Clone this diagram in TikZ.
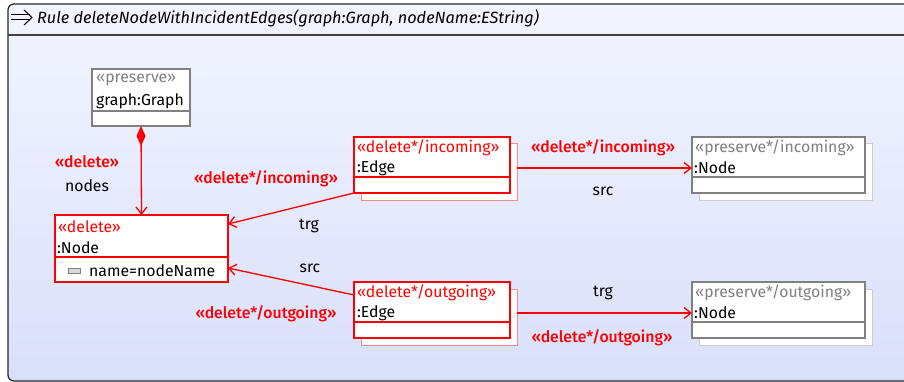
\documentclass[tikz,border=0pt]{standalone}
\usepackage{fontspec}
\setmainfont{Fira Sans}[BoldFont={Fira Sans Medium}]
\usetikzlibrary{arrows.meta,shapes}
\definecolor{delred}{rgb}{1, 0, 0}
\definecolor{shadred}{rgb}{1, 0.55, 0.55}
\definecolor{presgray}{rgb}{0.5, 0.5, 0.5}
\definecolor{shadgray}{rgb}{0.8, 0.8, 0.8}
\definecolor{bgtop}{rgb}{0.95, 0.96, 1}
\definecolor{bgbot}{rgb}{0.85, 0.88, 0.98}
\tikzstyle{box}=[rectangle,fill=white,inner sep=0pt,outer sep=0pt,anchor=north west]
\tikzstyle{delbox}=[box,draw=delred,line width=1.3pt]
\tikzstyle{presbox}=[box,draw=presgray,line width=1.3pt]
\tikzstyle{delshadow}=[box,draw=shadred,line width=1pt]
\tikzstyle{presshadow}=[box,draw=shadgray,line width=1pt]
\tikzstyle{txt}=[anchor=west,inner sep=0pt,font=\fontsize{15.8}{18}\selectfont]
\tikzstyle{deltxt}=[txt,text=delred]
\tikzstyle{prestxt}=[txt,text=presgray]
\tikzstyle{lbl}=[inner sep=0pt,font=\fontsize{15.8}{18}\selectfont]
\tikzstyle{dellbl}=[lbl,text=delred,font=\fontsize{15.8}{18}\selectfont\bfseries]
\tikzstyle{delarrow}=[draw=delred,line width=1.3pt,-{Straight Barb[length=7pt,width=11pt]}]

\begin{document}
\begin{tikzpicture}[x=1pt,y=-1pt]
\useasboundingbox (0,0) rectangle (904,382);
% frame
\draw[draw=black!85, line width=1.2pt, rounded corners=6pt, top color=bgtop, bottom color=bgbot] (8,4) rectangle (930,381);
\draw[line width=2pt, color=black!75] (8,35) -- (904,35);
\draw[line width=1pt] (11,15) -- (30,15);
\draw[line width=1pt] (11,20) -- (30,20);
\draw[line width=1pt] (24,10) -- (32,17.5) -- (24,25);
\node[txt, font=\fontsize{16.3}{18}\selectfont\itshape] (title) at (37,18) {Rule deleteNodeWithIncidentEdges(graph:Graph, nodeName:EString)};
% graph
\node[presbox, minimum width=98pt, minimum height=57pt] (graph) at (92,69) {};
\draw[presgray, line width=1.3pt] (92,111) -- (190,111);
\node[prestxt] (graphtype) at (96,80) {«preserve»};
\node[txt] (graphname) at (96,101) {graph:Graph};
% node to delete
\node[delbox, minimum width=173pt, minimum height=67pt] (delnode) at (55,215) {};
\draw[delred, line width=1.3pt] (55,257) -- (228,257);
\node[deltxt] (delnodetype) at (58,227) {«delete»};
\node[txt] (delnodename) at (57,248) {:Node};
\node[rectangle, draw=presgray, fill=black!15, line width=0.8pt, minimum width=12pt, minimum height=5pt, inner sep=0pt] (attricon) at (74.5,270.5) {};
\node[txt] (attr) at (89,271) {name=nodeName};
% incoming edge
\node[delshadow, minimum width=156pt, minimum height=56pt] (inedgeshadow) at (361,144) {};
\node[delbox, minimum width=156pt, minimum height=56pt] (inedge) at (354,137) {};
\draw[delred, line width=1.3pt] (354,177) -- (510,177);
\node[deltxt] (inedgetype) at (357,148) {«delete*/incoming»};
\node[txt] (inedgename) at (357,168) {:Edge};
\node[presshadow, minimum width=173pt, minimum height=56pt] (innodeshadow) at (699,144) {};
\node[presbox, minimum width=173pt, minimum height=56pt] (innode) at (692,137) {};
\draw[presgray, line width=1.3pt] (692,177) -- (865,177);
\node[prestxt] (innodetype) at (695,148) {«preserve*/incoming»};
\node[txt] (innodename) at (694,168) {:Node};
% outgoing edge
\node[delshadow, minimum width=156pt, minimum height=56pt] (outedgeshadow) at (361,289) {};
\node[delbox, minimum width=156pt, minimum height=56pt] (outedge) at (354,282) {};
\draw[delred, line width=1.3pt] (354,322) -- (510,322);
\node[deltxt] (outedgetype) at (357,293) {«delete*/outgoing»};
\node[txt] (outedgename) at (357,313) {:Edge};
\node[presshadow, minimum width=173pt, minimum height=56pt] (outnodeshadow) at (699,289) {};
\node[presbox, minimum width=173pt, minimum height=56pt] (outnode) at (692,282) {};
\draw[presgray, line width=1.3pt] (692,322) -- (865,322);
\node[prestxt] (outnodetype) at (695,293) {«preserve*/outgoing»};
\node[txt] (outnodename) at (694,313) {:Node};
% connectors
\draw[delarrow, {Diamond[length=20pt,width=9pt]}-{Straight Barb[length=7pt,width=11pt]}] (graph.south) -- (delnode.north);
\draw[delarrow] (inedge.south west) -- ([yshift=-9pt]delnode.north east);
\draw[delarrow] ([yshift=-13pt]outedge.north west) -- ([yshift=14pt]delnode.south east);
\draw[delarrow] (inedgeshadow.east |- inedgename) -- (innode.west |- inedgename);
\draw[delarrow] (outedgeshadow.east |- outedgename) -- (outnode.west |- outedgename);
% labels
\node[dellbl] (nodestype) at (87,162) {«delete»};
\node[lbl] (nodesrole) at (87,186) {nodes};
\node[dellbl] (intrgtype) at (266,179) {«delete*/incoming»};
\node[lbl] (intrgrole) at (309,226) {trg};
\node[lbl] (outsrcrole) at (310,268) {src};
\node[dellbl] (outsrctype) at (266,314) {«delete*/outgoing»};
\node[dellbl] (insrctype) at (603,148) {«delete*/incoming»};
\node[lbl] (insrcrole) at (603,191) {src};
\node[lbl] (outtrgrole) at (603,293) {trg};
\node[dellbl] (outtrgtype) at (602,338) {«delete*/outgoing»};
\end{tikzpicture}
\end{document}
